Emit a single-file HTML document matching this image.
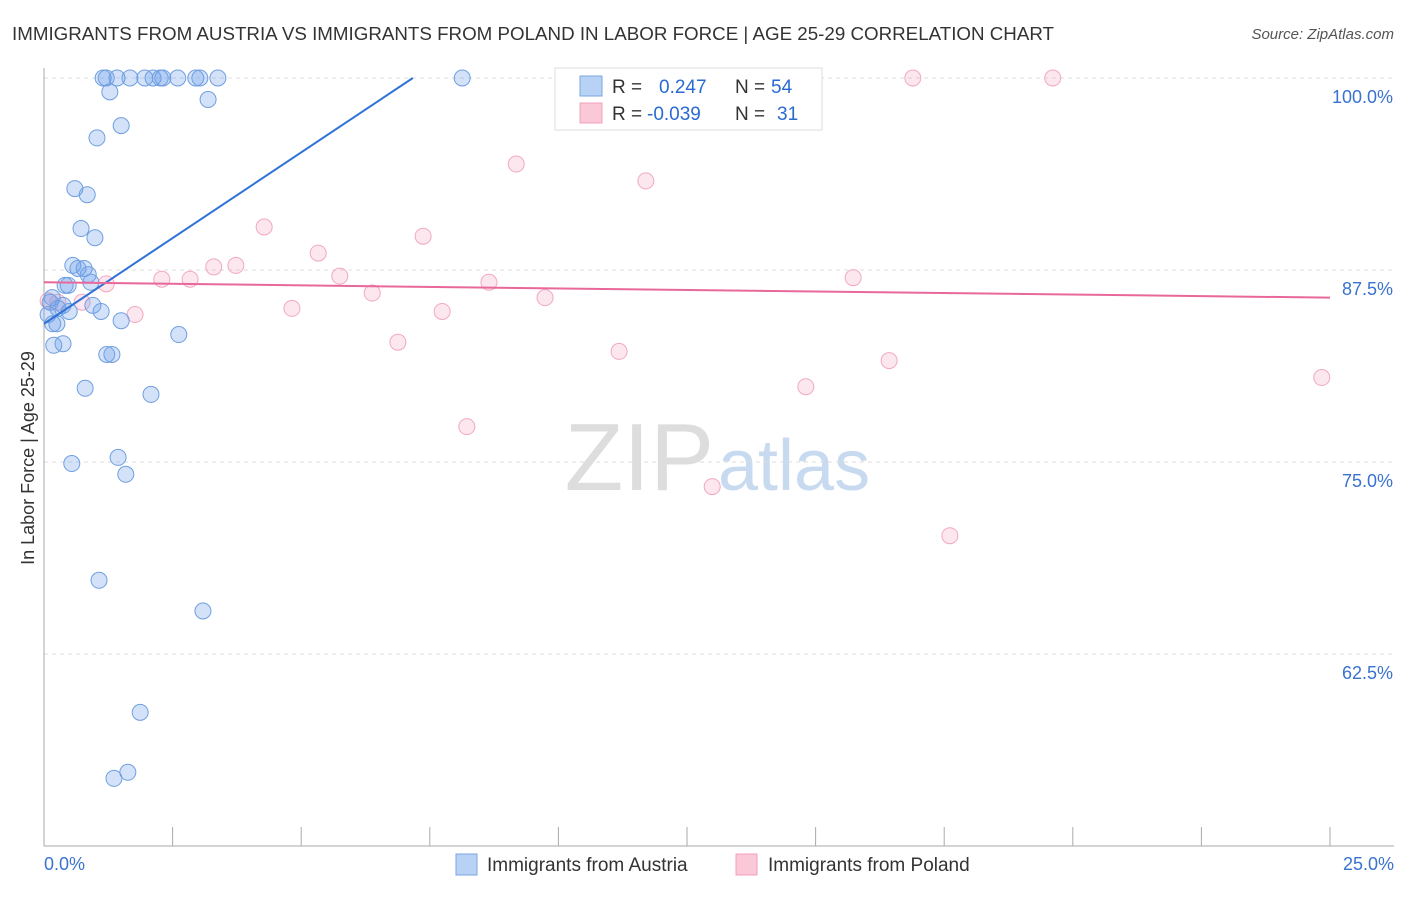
<!DOCTYPE html>
<html><head><meta charset="utf-8"><style>
body{margin:0;background:#fff;font-family:"Liberation Sans",sans-serif}
svg text{font-family:"Liberation Sans",sans-serif}
</style></head><body>
<svg id="c" width="1406" height="892">
<text x="12" y="40" font-size="18" fill="#333" textLength="1042" lengthAdjust="spacingAndGlyphs">IMMIGRANTS FROM AUSTRIA VS IMMIGRANTS FROM POLAND IN LABOR FORCE | AGE 25-29 CORRELATION CHART</text>
<text x="1394" y="39" font-size="15" fill="#555" font-style="italic" text-anchor="end">Source: ZipAtlas.com</text>
<text transform="translate(34,458) rotate(-90)" font-size="18" fill="#333" text-anchor="middle">In Labor Force | Age 25-29</text>
<text x="714" y="490" font-size="96" fill="#ddd" text-anchor="end" font-family="Liberation Serif">ZIP</text>
<text x="718" y="490" font-size="72" fill="#c8daf0">atlas</text>
<g id="grid"></g><g id="axes"></g><g id="pts"></g><g id="lines"></g>
<g>
<rect x="555" y="68" width="267" height="62" fill="#fff" stroke="#ddd"/>
<rect x="580" y="76" width="22" height="20" fill="#b8d2f5" stroke="#7aa6e0"/>
<rect x="580" y="103" width="22" height="20" fill="#fbc8d8" stroke="#f0a0bc"/>
<text x="612" y="93" font-size="19" fill="#333">R = <tspan fill="#2a6ad0" x="659">0.247</tspan><tspan x="735" fill="#333">N = </tspan><tspan fill="#2a6ad0" x="771">54</tspan></text>
<text x="612" y="120" font-size="19" fill="#333">R = <tspan fill="#2a6ad0" x="647">-0.039</tspan><tspan x="735" fill="#333">N = </tspan><tspan fill="#2a6ad0" x="777">31</tspan></text>
</g>
<g>
<rect x="456" y="854" width="21" height="21" fill="#b8d2f5" stroke="#7aa6e0"/>
<text x="487" y="871" font-size="19" fill="#333">Immigrants from Austria</text>
<rect x="736" y="854" width="21" height="21" fill="#fbc8d8" stroke="#f0a0bc"/>
<text x="768" y="871" font-size="19" fill="#333">Immigrants from Poland</text>
</g>
</svg>
<script>
const austriaX=[1.15,1.21,1.42,1.67,1.96,2.12,2.26,2.31,2.60,2.95,3.03,3.38,8.13,1.28,3.19,1.50,1.03,0.60,0.84,0.72,0.99,0.56,0.66,0.78,0.86,0.91,0.41,0.47,0.16,0.12,0.37,0.27,0.95,1.11,0.49,0.08,1.50,0.25,0.17,2.62,0.19,0.37,1.22,1.32,0.80,2.08,0.54,1.44,1.59,1.07,3.09,1.87,1.63,1.36];
const austriaY=[100,100,100,100,100,100,100,100,100,100,100,100,100,99.1,98.6,96.9,96.1,92.8,92.4,90.2,89.6,87.8,87.6,87.6,87.2,86.7,86.5,86.5,85.7,85.4,85.2,85.0,85.2,84.8,84.8,84.6,84.2,84.0,84.0,83.3,82.6,82.7,82.0,82.0,79.8,79.4,74.9,75.3,74.2,67.3,65.3,58.7,54.8,54.4];
const polandX=[16.89,19.61,9.18,11.70,4.28,7.37,5.33,3.30,3.73,2.29,2.84,5.75,15.73,8.65,1.21,6.38,9.74,0.74,0.27,4.82,7.74,1.77,6.88,11.18,16.43,14.81,24.84,8.22,12.99,17.61,0.08];
const polandY=[100,100,94.4,93.3,90.3,89.7,88.6,87.7,87.8,86.9,86.9,87.1,87.0,86.7,86.6,86.0,85.7,85.4,85.4,85.0,84.8,84.6,82.8,82.2,81.6,79.9,80.5,77.3,73.4,70.2,85.5];
const yTicks=[100,87.5,75,62.5];
const yTickLabels=["100.0%","87.5%","75.0%","62.5%"];
const xTicks=[0,2.5,5,7.5,10,12.5,15,17.5,20,22.5,25];
const austriaTrend=[[0,84.0],[7.17,100]];
const polandTrend=[[0,86.7],[25,85.7]];
const NS="http://www.w3.org/2000/svg";
const X=v=>44+v/25*1286, Y=v=>78+(100-v)/12.5*192;
function mk(t,a,p){const e=document.createElementNS(NS,t);for(const k in a)e.setAttribute(k,a[k]);document.getElementById(p).appendChild(e);return e;}
yTicks.forEach((t,i)=>{
 const g=mk('line',{x1:44,x2:1394,y1:Y(t),y2:Y(t),stroke:'#ddd','stroke-dasharray':'4,4'},'grid');
 
 
 const l=mk('text',{x:1393,y:Y(t)+25,'font-size':18,fill:'#3a72d0','text-anchor':'end'},'axes');l.textContent=yTickLabels[i];
 
 
});
const ax=mk('line',{x1:44,x2:1394,y1:846,y2:846,stroke:'#aaa'},'axes');


const ay=mk('line',{x1:44,x2:44,y1:68,y2:846,stroke:'#aaa'},'axes');


xTicks.forEach(t=>{const e=mk('line',{x1:X(t),x2:X(t),y1:827,y2:846,stroke:'#aaa'},'axes');
 
 });
[[0,'0.0%','start',44],[25,'25.0%','end',1394]].forEach(([v,s,a,x])=>{const e=mk('text',{x:x,y:870,'font-size':18,fill:'#3a72d0','text-anchor':a},'axes');e.textContent=s;
 
 });
polandX.forEach((v,i)=>{const c=mk('circle',{cx:X(v),cy:Y(polandY[i]),r:8,fill:'rgba(245,160,190,0.25)',stroke:'#f2a8c2','stroke-width':1},'pts');
 
 });
austriaX.forEach((v,i)=>{const c=mk('circle',{cx:X(v),cy:Y(austriaY[i]),r:8,fill:'rgba(110,160,235,0.3)',stroke:'#6f9fe0','stroke-width':1},'pts');
 
 });
const la=mk('line',{x1:X(austriaTrend[0][0]),y1:Y(austriaTrend[0][1]),x2:X(austriaTrend[1][0]),y2:Y(austriaTrend[1][1]),stroke:'#2f72d6','stroke-width':2},'lines');


const lp=mk('line',{x1:X(polandTrend[0][0]),y1:Y(polandTrend[0][1]),x2:X(polandTrend[1][0]),y2:Y(polandTrend[1][1]),stroke:'#e8689a','stroke-width':2},'lines');


</script>
</body></html>
